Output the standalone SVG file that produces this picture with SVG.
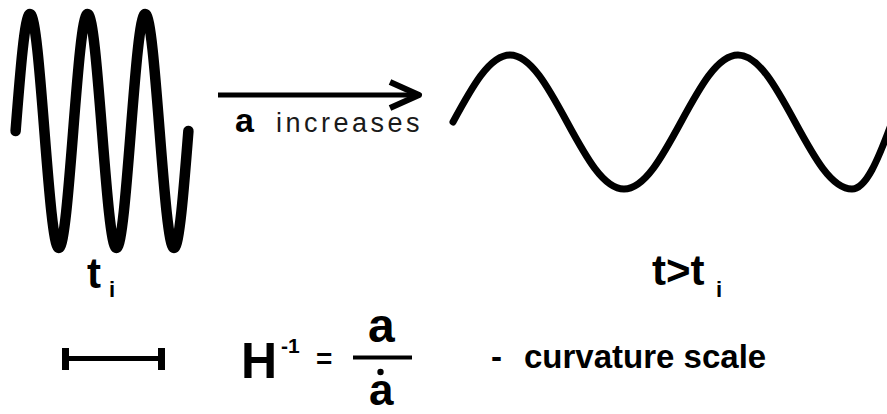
<svg xmlns="http://www.w3.org/2000/svg" width="887" height="414" viewBox="0 0 887 414">
  <style>
    .wave { fill: none; stroke: #000; stroke-linecap: round; stroke-linejoin: round; }
    .b { font-family: "Liberation Sans", Arial, sans-serif; font-weight: bold; fill: #000; }
    .r { font-family: "Liberation Sans", Arial, sans-serif; font-weight: normal; fill: #1a1a1a; }
    .conn { fill: none; stroke: #000; stroke-width: 5; }
  </style>
  <defs>
    <marker id="chev" markerUnits="userSpaceOnUse" markerWidth="40" markerHeight="40" viewBox="0 0 40 40" refX="33" refY="20" orient="auto" overflow="visible">
      <path d="M4,7 L33,20 L4,33" fill="none" stroke="#000" stroke-width="6" stroke-linejoin="round" stroke-linecap="butt"/>
    </marker>
  </defs>
  <rect x="0" y="0" width="887" height="414" fill="#fff"/>

  <g id="wave-initial">
    <path class="wave" stroke-width="10.5" d="M15.6,131 C20.3,71.1 24.8,14 30,14 C35.2,14 39.7,71.1 44.4,131 C49.1,190.9 53.6,248 58.8,248 C64,248 68.5,190.9 73.2,131 C77.9,71.1 82.4,14 87.6,14 C92.8,14 97.3,71.1 102,131 C106.7,190.9 111.2,248 116.4,248 C121.6,248 126.1,190.9 130.8,131 C135.5,71.1 140,14 145.2,14 C150.4,14 154.9,71.1 159.6,131 C164.3,190.9 168.8,248 174,248 C179.2,248 183.7,190.9 188.4,131"/>
  </g>

  <g id="wave-later">
    <path class="wave" stroke-width="7" d="M453,122 C471.6,87.7 489.4,55 510,55 C530.6,55 548.4,87.7 567,122 C585.6,156.3 603.4,189 624,189 C644.6,189 662.4,156.3 681,122 C699.6,87.7 717.4,55 738,55 C758.6,55 776.4,87.7 795,122 C813.6,156.3 831.4,189 852,189 C866,189 878,160 892,122"/>
  </g>

  <g id="connectors">
    <line class="conn" x1="218" y1="95" x2="419" y2="95" marker-end="url(#chev)"/>
  </g>

  <g id="arrow-label">
    <text x="235" y="132"><tspan class="b" font-size="34">a</tspan><tspan class="r" x="276" font-size="27" letter-spacing="3.5">increases</tspan></text>
  </g>

  <g id="label-ti">
    <text class="b" x="87" y="288" font-size="42">t</text>
    <text class="b" x="109" y="297" font-size="22">i</text>
  </g>

  <g id="label-t-gt-ti">
    <text class="b" x="652" y="285" font-size="42">t&gt;t</text>
    <text class="b" x="716" y="297" font-size="22">i</text>
  </g>

  <g id="scale-bar">
    <line x1="66" y1="358.5" x2="161" y2="358.5" stroke="#000" stroke-width="5"/>
    <rect x="62" y="348" width="7" height="22" fill="#000"/>
    <rect x="158" y="348" width="7" height="22" fill="#000"/>
  </g>

  <g id="formula">
    <text class="b" x="241" y="378" font-size="50">H</text>
    <text class="b" x="281" y="353" font-size="21">-1</text>
    <text class="b" x="316" y="368" font-size="28">=</text>
    <text class="b" x="368" y="342" font-size="48">a</text>
    <line x1="353" y1="357.5" x2="412" y2="357.5" stroke="#000" stroke-width="4"/>
    <circle cx="380.5" cy="372" r="3.2" fill="#000"/>
    <text class="b" x="369" y="405" font-size="44">a</text>
  </g>

  <g id="curvature-label">
    <text class="b" y="368" font-size="33"><tspan x="491">-</tspan><tspan x="524">curvature scale</tspan></text>
  </g>
</svg>
